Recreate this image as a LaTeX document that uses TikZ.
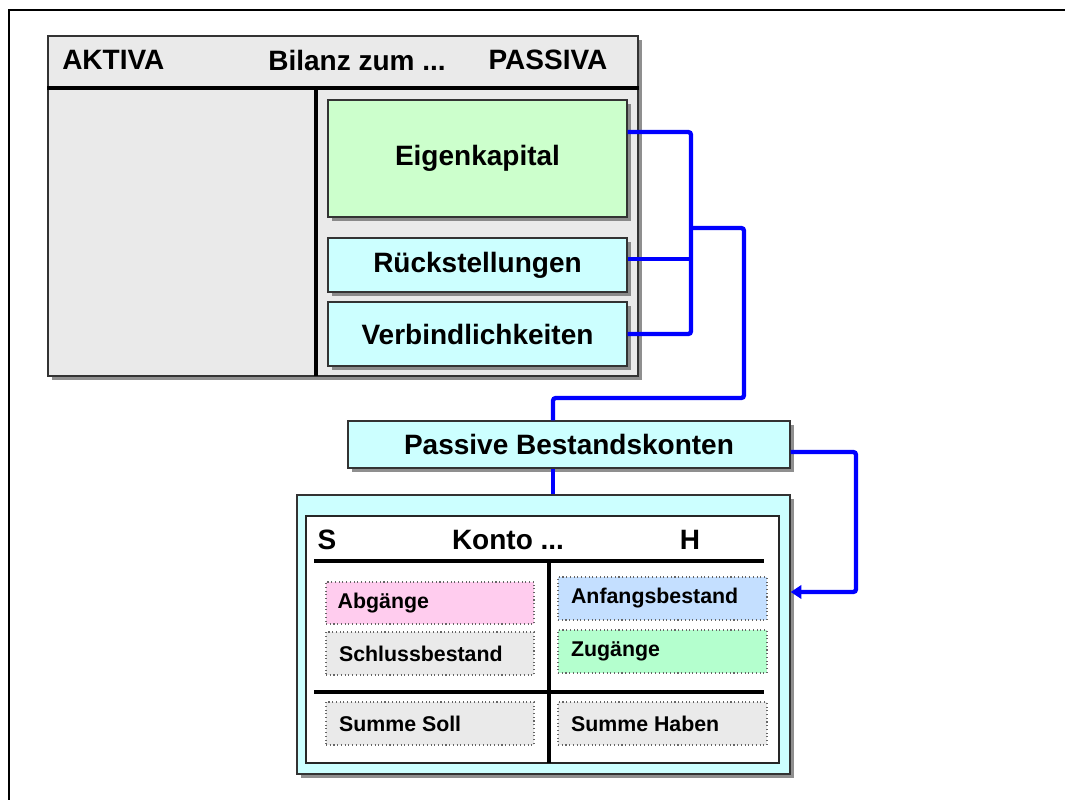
\documentclass[tikz,border=0pt]{standalone}
\usepackage{fontspec}
\setmainfont{Liberation Sans}
\usetikzlibrary{fit,shadows,arrows.meta}

\definecolor{panelgrey}{HTML}{EAEAEA}
\definecolor{equitygreen}{HTML}{CCFFCC}
\definecolor{lightcyan}{HTML}{CCFFFF}
\definecolor{rosepink}{HTML}{FFCCEE}
\definecolor{skyblue}{HTML}{C4DFFF}
\definecolor{mintgreen}{HTML}{B4FFCE}
\definecolor{linkblue}{HTML}{0000FF}

\begin{document}
\begin{tikzpicture}[x=0.75pt,y=-0.75pt,
  big/.style={font=\fontsize{21}{24}\selectfont\bfseries, inner sep=0pt},
  small/.style={font=\fontsize{16}{18}\selectfont\bfseries, inner sep=0pt},
  box/.style={draw=black!80, line width=1.1pt, inner sep=0pt,
    drop shadow={shadow xshift=3pt, shadow yshift=-3pt, fill=black!55, opacity=0.8}},
  entry/.style={draw=black!60, dotted, line width=0.8pt, inner sep=0pt},
  rule/.style={line width=2.6pt},
  link/.style={draw=linkblue, line width=3.2pt, rounded corners=2pt},
]
\useasboundingbox (0,0) rectangle (1065,800);

% frame
\draw[line width=2.2pt] (9,800) -- (9,10) -- (1065,10);

% balance sheet
\node[box, fill=panelgrey, fit={(48,36) (638,376)}] (bilanz) {};
\draw[rule] (bilanz.west |- 0,88) -- (bilanz.east |- 0,88);
\draw[rule] (316,88) -- (316 ,376);
\node[big, anchor=west] (aktiva) at (62,60) {AKTIVA};
\node[big] (titel) at (357,60) {Bilanz zum ...};
\node[big] (passiva) at (548,60) {PASSIVA};

\node[box, fill=equitygreen, fit={(328,100) (627,217)}] (eigen) {};
\node[big] (eigentext) at (eigen.center) {Eigenkapital};
\node[box, fill=lightcyan, fit={(328,238) (627,292)}] (rueck) {};
\node[big] (rueckttext) at (rueck.center) {Rückstellungen};
\node[box, fill=lightcyan, fit={(328,302) (627,366)}] (verb) {};
\node[big] (verbtext) at (verb.center) {Verbindlichkeiten};

% account group
\node[box, fill=lightcyan, fit={(348,421) (790,468)}] (passiv) {};
\node[big] (passivtext) at (passiv.center) {Passive Bestandskonten};

% T-account
\node[box, fill=lightcyan, fit={(297,495) (790,774)}] (konto) {};
\node[draw=black!85, line width=1.1pt, fill=white, inner sep=0pt, fit={(306,516) (779,763)}] (inner) {};
\node[big] (soll) at (327,540) {S};
\node[big] (kontotitel) at (508,540) {Konto ...};
\node[big] (haben) at (690,540) {H};
\draw[rule] (314,561) -- (764,561);
\draw[rule] (314,692) -- (764,692);
\draw[rule] (549,561) -- (549,763);

\node[entry, fill=rosepink, fit={(326,582) (534,624)}] (abg) {};
\node[small, anchor=west] (abgtext) at ([xshift=9pt]abg.west) {Abgänge};
\node[entry, fill=panelgrey, fit={(326,632) (534,675)}] (schluss) {};
\node[small, anchor=west] (schlusstext) at ([xshift=10pt]schluss.west) {Schlussbestand};
\node[entry, fill=skyblue, fit={(558,577) (767,620)}] (anfang) {};
\node[small, anchor=west] (anfangtext) at ([xshift=10pt]anfang.west) {Anfangsbestand};
\node[entry, fill=mintgreen, fit={(558,630) (767,673)}] (zug) {};
\node[small, anchor=west] (zugtext) at ([xshift=10pt]zug.west) {Zugänge};
\node[entry, fill=panelgrey, fit={(326,702) (534,745)}] (ssoll) {};
\node[small, anchor=west] (ssolltext) at ([xshift=10pt]ssoll.west) {Summe Soll};
\node[entry, fill=panelgrey, fit={(558,702) (767,745)}] (shaben) {};
\node[small, anchor=west] (shabentext) at ([xshift=10pt]shaben.west) {Summe Haben};

% connectors
\coordinate (bustop) at (691,132);
\coordinate (busmid) at (691,259);
\coordinate (busbot) at (691,334);
\coordinate (fork) at (691,228);
\coordinate (drop) at (744,228);
\coordinate (stem) at (553,398);
\coordinate (side) at (856,452);
\coordinate (hook) at (856,592);

\draw[link] (bustop -| eigen.east) -- (bustop) -- (busbot) -- (busbot -| verb.east);
\draw[link] (busmid -| rueck.east) -- (busmid);
\draw[link] (fork) -- (drop) -- (drop |- stem) -- (stem) -- (stem |- passiv.north);
\draw[link] (stem |- passiv.south) -- (stem |- konto.north);
\draw[link, -{Triangle[length=8pt,width=10pt]}] (side -| passiv.east) -- (side) -- (hook) -- (hook -| konto.east);
\end{tikzpicture}
\end{document}
